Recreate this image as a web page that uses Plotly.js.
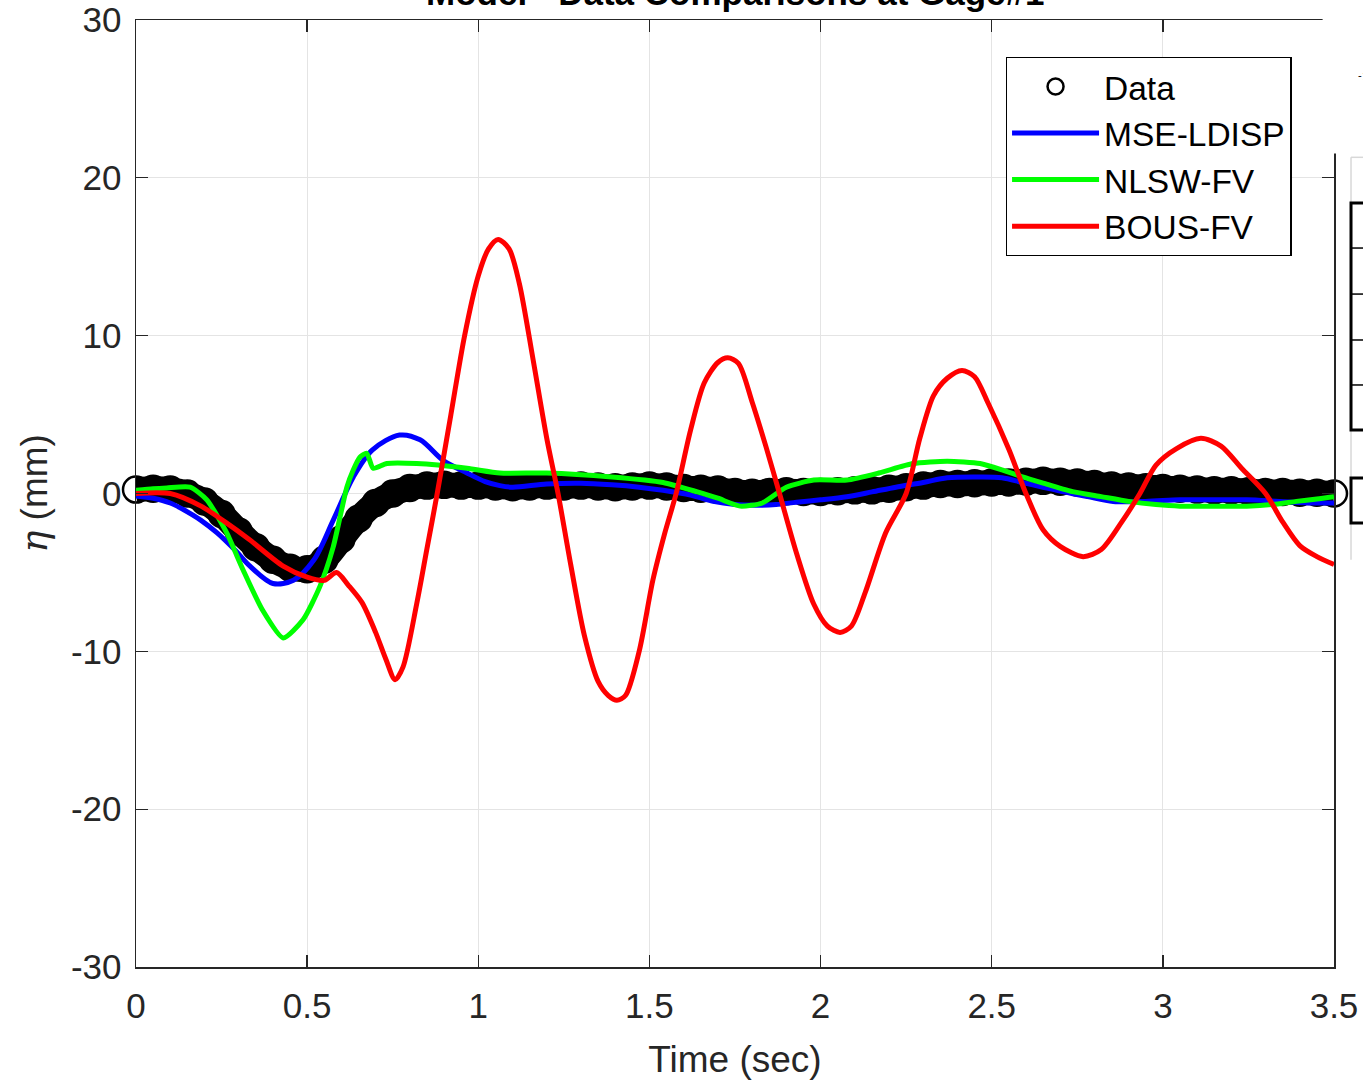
<!DOCTYPE html>
<html>
<head>
<meta charset="utf-8">
<script src="https://cdn.plot.ly/plotly-3.0.1.min.js"></script>
<style>html,body{margin:0;padding:0;background:#fff;}#chart{width:1363px;height:1082px;}</style>
</head>
<body>
<div id="chart"></div>
<script>
// ---- Data ----
const dataT = [0.00,0.05,0.10,0.15,0.20,0.25,0.30,0.35,0.40,0.45,0.50,0.55,0.60,0.65,0.70,0.75,0.80,0.85,0.90,0.95,
  1.00,1.05,1.10,1.15,1.20,1.25,1.30,1.35,1.40,1.45,1.50,1.55,1.60,1.65,1.70,1.75,1.80,1.85,1.90,1.95,
  2.00,2.05,2.10,2.15,2.20,2.25,2.30,2.35,2.40,2.45,2.50,2.55,2.60,2.65,2.70,2.75,2.80,2.85,2.90,2.95,
  3.00,3.05,3.10,3.15,3.20,3.25,3.30,3.35,3.40,3.45,3.50];
const dataEta = [0.25,0.3,0.25,0.0,-0.5,-1.3,-2.4,-3.4,-4.2,-4.7,-4.8,-4.2,-2.9,-1.6,-0.6,0.0,0.35,0.5,0.55,0.5,
  0.5,0.45,0.4,0.45,0.5,0.45,0.5,0.45,0.4,0.45,0.5,0.45,0.35,0.3,0.25,0.1,0.05,0.1,0.15,0.1,
  0.1,0.15,0.2,0.2,0.3,0.4,0.5,0.6,0.6,0.65,0.7,0.7,0.75,0.8,0.75,0.7,0.6,0.5,0.45,0.4,
  0.35,0.3,0.25,0.2,0.2,0.15,0.1,0.1,0.05,0.05,0.0];

const mseT = [0,0.05,0.10,0.137,0.19,0.237,0.29,0.333,0.40,0.46,0.52,0.576,0.635,0.69,0.77,0.83,0.897,0.967,1.02,1.063,1.10,1.20,1.30,1.39,1.47,1.54,1.62,1.686,1.75,1.81,1.87,1.93,2.00,2.077,2.15,2.22,2.30,2.37,2.466,2.53,2.59,2.65,2.71,2.78,2.855,2.95,3.05,3.15,3.245,3.34,3.44,3.5];
const mseEta = [-0.15,-0.3,-0.6,-1.0,-1.7,-2.5,-3.6,-4.6,-5.7,-5.5,-4.2,-1.7,1.05,2.75,3.7,3.4,2.1,1.3,0.75,0.5,0.4,0.6,0.65,0.55,0.4,0.2,-0.1,-0.5,-0.7,-0.75,-0.7,-0.55,-0.4,-0.2,0.1,0.4,0.7,1.0,1.05,1.0,0.7,0.4,0.1,-0.2,-0.5,-0.5,-0.4,-0.4,-0.4,-0.5,-0.6,-0.6];

const nlswT = [0,0.05,0.09,0.158,0.207,0.265,0.313,0.37,0.43,0.488,0.537,0.576,0.616,0.635,0.654,0.674,0.693,0.733,0.82,0.967,1.063,1.20,1.39,1.54,1.64,1.70,1.765,1.83,1.90,1.98,2.077,2.17,2.27,2.37,2.466,2.53,2.59,2.66,2.74,2.82,2.90,2.98,3.05,3.15,3.245,3.32,3.39,3.45,3.5];
const nlswEta = [0.2,0.3,0.35,0.4,-0.4,-2.5,-4.85,-7.4,-9.15,-8.0,-5.9,-3.4,0.4,1.5,2.3,2.55,1.6,1.9,1.9,1.6,1.3,1.3,1.05,0.7,0.1,-0.3,-0.8,-0.6,0.4,0.85,0.85,1.3,1.9,2.05,1.9,1.5,1.05,0.6,0.1,-0.2,-0.5,-0.7,-0.8,-0.8,-0.8,-0.7,-0.5,-0.35,-0.2];

const bousT = [0,0.10,0.19,0.26,0.33,0.43,0.50,0.55,0.586,0.62,0.66,0.70,0.73,0.757,0.78,0.82,0.85,0.88,0.92,0.96,1.00,1.03,1.058,1.09,1.12,1.16,1.20,1.233,1.27,1.31,1.35,1.38,1.405,1.43,1.47,1.51,1.545,1.578,1.62,1.66,1.70,1.729,1.76,1.80,1.84,1.88,1.93,1.98,2.02,2.057,2.09,2.13,2.19,2.25,2.29,2.33,2.37,2.413,2.45,2.49,2.55,2.60,2.65,2.70,2.767,2.82,2.88,2.933,2.98,3.04,3.111,3.17,3.23,3.30,3.35,3.40,3.45,3.5];
const bousEta = [0,0.0,-0.8,-1.8,-2.9,-4.6,-5.3,-5.5,-5.0,-5.8,-6.9,-8.8,-10.5,-11.8,-11.0,-7.0,-3.5,0,5,10,13.8,15.5,16.1,15.5,13.3,8.5,3.5,0,-4.5,-9,-11.9,-12.8,-13.1,-12.8,-10.0,-5.5,-2.5,0,4,7,8.3,8.6,8.25,5.8,3.0,0,-3.8,-7,-8.4,-8.8,-8.4,-6.3,-2.5,0,3.5,6.2,7.3,7.8,7.4,5.7,2.8,0,-2.3,-3.35,-4.0,-3.55,-1.8,0,1.8,2.85,3.5,3.0,1.6,0,-1.8,-3.3,-4.0,-4.5];

const xTicks = [0,0.5,1,1.5,2,2.5,3,3.5];
const xTickText = ['0','0.5','1','1.5','2','2.5','3','3.5'];
const yTicks = [-30,-20,-10,0,10,20,30];
const yTickText = ['-30','-20','-10','0','10','20','30'];
const seriesNames = ['Data','MSE-LDISP','NLSW-FV','BOUS-FV'];
const chartTitle = 'Model - Data Comparisons at Gage#1';
const xTitle = 'Time (sec)';
const yTitle = '<span style="font-family:\'DejaVu Serif\'"><i>η</i></span> (mm)';

const FONT = 'Liberation Sans, Arial, Helvetica, sans-serif';
const TXT = '#262626';

const traces = [
  {x: dataT, y: dataEta, mode: 'lines', line: {color: '#000', width: 25, shape: 'spline'}, showlegend: false, hoverinfo: 'skip'},
  {x: dataT, y: dataEta, mode: 'markers', name: seriesNames[0], cliponaxis: false,
   marker: {symbol: 'circle-open', size: 26, color: '#000', line: {width: 2.5, color: '#000'}}},
  {x: mseT, y: mseEta, mode: 'lines', name: seriesNames[1], line: {color: '#0000ff', width: 5, shape: 'spline', smoothing: 0.9}},
  {x: nlswT, y: nlswEta, mode: 'lines', name: seriesNames[2], line: {color: '#00ff00', width: 5, shape: 'spline', smoothing: 0.6}},
  {x: bousT, y: bousEta, mode: 'lines', name: seriesNames[3], line: {color: '#ff0000', width: 5, shape: 'spline', smoothing: 0.8}}
];

const axisCommon = {
  ticks: 'inside', ticklen: 12, tickwidth: 1.3, tickcolor: TXT,
  showline: true, linecolor: TXT, linewidth: 1.5, mirror: 'allticks',
  showgrid: true, gridcolor: '#e4e4e4', gridwidth: 1, zeroline: false,
  tickfont: {family: FONT, size: 35, color: TXT}
};

const layout = {
  width: 1363, height: 1082,
  margin: {l: 136, r: 29, t: 20, b: 115, pad: 0},
  paper_bgcolor: '#fff', plot_bgcolor: '#fff',
  font: {family: FONT, color: TXT},
  showlegend: true,
  xaxis: Object.assign({}, axisCommon, {range: [0, 3.5], tickmode: 'array', tickvals: xTicks, ticktext: xTickText,
    ticklabelstandoff: 7,
    title: {text: xTitle, font: {family: FONT, size: 37, color: TXT}, standoff: 22}}),
  yaxis: Object.assign({}, axisCommon, {range: [-30, 30], tickmode: 'array', tickvals: yTicks, ticktext: yTickText,
    ticklabelstandoff: 6,
    title: {text: yTitle, font: {family: FONT, size: 37, color: TXT}, standoff: 12}}),
  legend: {x: 0.726, y: 0.961, xanchor: 'left', yanchor: 'top', bgcolor: '#fff', bordercolor: '#000', borderwidth: 1.3,
    font: {family: FONT, size: 33.5, color: '#000'}, itemwidth: 87, tracegroupgap: 0},
  annotations: [
    {text: '<b>' + chartTitle + '</b>', xref: 'paper', yref: 'paper', x: 0.5, y: 1.029, xanchor: 'center', yanchor: 'middle',
     showarrow: false, font: {family: FONT, size: 35, color: '#000'}},
    {text: '-1', xref: 'paper', yref: 'paper', x: 1.018, y: 0.94, xanchor: 'left', yanchor: 'middle', showarrow: false,
     font: {family: 'DejaVu Serif', size: 11, color: '#000'}}
  ],
  shapes: [
    {type: 'rect', xref: 'paper', yref: 'paper', x0: 0.9905, x1: 1.03, y0: 0.859, y1: 1.03, fillcolor: '#fff', line: {width: 0}, layer: 'above'},
    {type: 'line', xref: 'paper', yref: 'paper', x0: 1.0142, x1: 1.0142, y0: 0.855, y1: 0.43, line: {color: '#d8d8d8', width: 1.5}, layer: 'above'},
    {type: 'line', xref: 'paper', yref: 'paper', x0: 1.0142, x1: 1.03, y0: 0.855, y1: 0.855, line: {color: '#d8d8d8', width: 1.5}, layer: 'above'},
    {type: 'rect', xref: 'paper', yref: 'paper', x0: 1.0142, x1: 1.04, y0: 0.8067, y1: 0.5670, fillcolor: 'rgba(0,0,0,0)', line: {color: '#000', width: 3}, layer: 'above'},
    {type: 'line', xref: 'paper', yref: 'paper', x0: 1.0142, x1: 1.04, y0: 0.7592, y1: 0.7592, line: {color: '#000', width: 1.5}, layer: 'above'},
    {type: 'line', xref: 'paper', yref: 'paper', x0: 1.0142, x1: 1.04, y0: 0.7106, y1: 0.7106, line: {color: '#000', width: 1.5}, layer: 'above'},
    {type: 'line', xref: 'paper', yref: 'paper', x0: 1.0142, x1: 1.04, y0: 0.6621, y1: 0.6621, line: {color: '#000', width: 1.5}, layer: 'above'},
    {type: 'line', xref: 'paper', yref: 'paper', x0: 1.0142, x1: 1.04, y0: 0.6146, y1: 0.6146, line: {color: '#000', width: 1.5}, layer: 'above'},
    {type: 'rect', xref: 'paper', yref: 'paper', x0: 1.0142, x1: 1.04, y0: 0.5164, y1: 0.4688, fillcolor: 'rgba(0,0,0,0)', line: {color: '#000', width: 3}, layer: 'above'}
  ]
};

Plotly.newPlot('chart', traces, layout, {displayModeBar: false, responsive: false, staticPlot: true});
</script>
</body>
</html>
